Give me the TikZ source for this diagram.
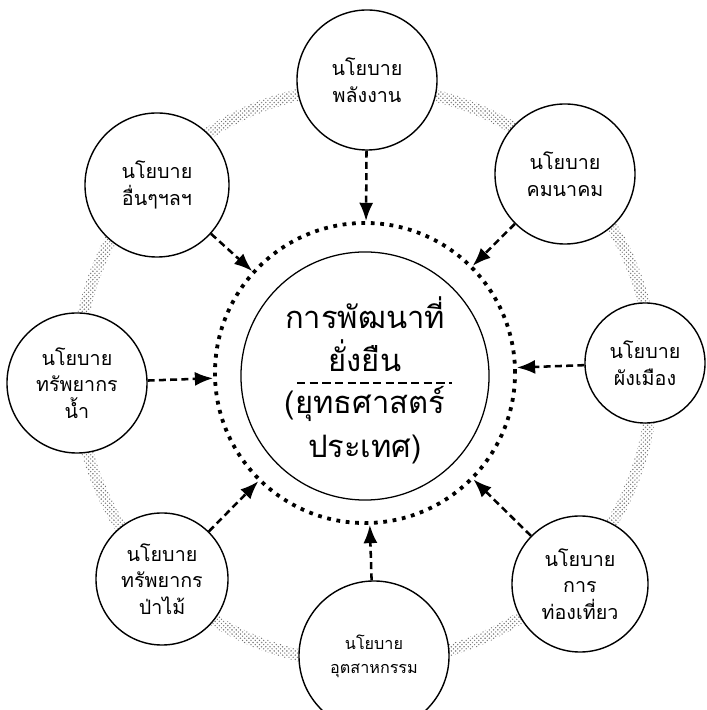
\documentclass[tikz,border=0pt]{standalone}
\usepackage{fontspec}
\newfontfamily\thaifont[Script=Thai]{Loma}
\usetikzlibrary{arrows.meta, patterns, positioning}
\tikzset{
  policy/.style={circle, draw, line width=1pt, fill=white, minimum size=#1, inner sep=0pt,
    align=center, font=\thaifont\fontsize{14}{19}\selectfont},
  feed/.style={line width=1.8pt, dash pattern=on 5pt off 3pt, -{Latex[length=13pt,width=10pt]}},
  coretext/.style={align=center, font=\thaifont\fontsize{22}{31}\selectfont}
}

\begin{document}
\begin{tikzpicture}[x=0.025cm, y=0.025cm]
    \fill[white] (0,0) rectangle (706,710);
    \useasboundingbox (0,0) rectangle (706,710);

    % grey ring that links the policies
    \fill[pattern=crosshatch dots, pattern color=black!55, even odd rule]
        (365,335) circle [radius=294] circle [radius=282];
    \fill[pattern=dots, pattern color=black!45, even odd rule]
        (365,335) circle [radius=292] circle [radius=284];

    \node[policy=3.5cm] (energy) at (367,630) {นโยบาย\\พลังงาน};
    \node[policy=3.5cm] (transport) at (565,536) {นโยบาย\\คมนาคม};
    \node[policy=3.0cm] (city) at (645,347) {นโยบาย\\ผังเมือง};
    \node[policy=3.4cm] (tourism) at (580,126) {นโยบาย\\การ\\ท่องเที่ยว};
    \node[policy=3.75cm, font=\thaifont\fontsize{11.5}{17}\selectfont] (industry) at (374,54) {นโยบาย\\อุตสาหกรรม};
    \node[policy=3.3cm] (forest) at (162,131) {นโยบาย\\ทรัพยากร\\ป่าไม้};
    \node[policy=3.5cm] (water) at (77,327) {นโยบาย\\ทรัพยากร\\น้ำ};
    \node[policy=3.6cm] (other) at (157,525) {นโยบาย\\อื่นๆฯลฯ};

    % the goal in the middle
    \node[circle, draw, line width=0.9pt, minimum size=6.2cm] (core) at (365,334) {};
    \node[circle, draw, line width=2.7pt, dash pattern=on 2.7pt off 4pt, minimum size=7.5cm] (ring) at (365,337) {};
    \node[coretext] (goal) at (365,376) {การพัฒนาที่\\ยั่งยืน};
    \node[coretext] (plan) at (365,285) {(ยุทธศาสตร์\\ประเทศ)};
    \coordinate (cutL) at (297,327);
    \coordinate (cutR) at (452,327);
    \draw[line width=1.6pt, dash pattern=on 6pt off 3pt] (cutL) -- (cutR);

    \draw[feed] (energy) -- (ring);
    \draw[feed] (transport) -- (ring);
    \draw[feed] (city) -- (ring);
    \draw[feed] (tourism) -- (ring);
    \draw[feed] (industry) -- (ring);
    \draw[feed] (forest) -- (ring);
    \draw[feed] (water) -- (ring);
    \draw[feed] (other) -- (ring);
\end{tikzpicture}
\end{document}
